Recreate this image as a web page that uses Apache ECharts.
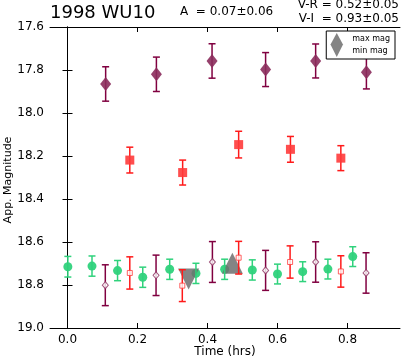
<!DOCTYPE html>
<html><head><meta charset="utf-8">
<script src="https://cdn.jsdelivr.net/npm/echarts@6/dist/echarts.min.js"></script>
<style>html,body{margin:0;padding:0;background:#fff}#c{width:401px;height:362px}</style>
</head><body><div id="c"></div>
<script>
// Data: [time (hrs), magnitude, error]
const vDiamonds = [[0.109,17.865,0.080],[0.254,17.820,0.080],[0.413,17.758,0.080],[0.566,17.798,0.079],[0.709,17.758,0.079],[0.854,17.811,0.077]];
const rSquares  = [[0.178,18.219,0.060],[0.329,18.277,0.058],[0.489,18.147,0.062],[0.637,18.169,0.060],[0.781,18.210,0.058]];
const greenCircles = [[0.001,18.715,0.048],[0.070,18.712,0.047],[0.143,18.733,0.047],[0.215,18.764,0.047],[0.292,18.727,0.047],[0.367,18.746,0.047],[0.449,18.727,0.047],[0.528,18.730,0.047],[0.600,18.749,0.046],[0.672,18.738,0.046],[0.744,18.726,0.046],[0.815,18.668,0.046]];
const openSquares = [[0.178,18.744,0.075],[0.328,18.803,0.074],[0.489,18.673,0.076],[0.636,18.693,0.075],[0.781,18.737,0.073]];
const openDiamonds = [[0.108,18.801,0.095],[0.253,18.755,0.094],[0.414,18.693,0.095],[0.566,18.732,0.093],[0.709,18.693,0.094],[0.853,18.744,0.094]];
const maxMag = [[0.471,18.699]];
const minMag = [[0.346,18.772]];
const xTicks = [0.0,0.2,0.4,0.6,0.8];
const yTicks = [17.6,17.8,18.0,18.2,18.4,18.6,18.8,19.0];
const titleText = '1998 WU10';
const ampText = 'A  = 0.07\u00b10.06';
const vrText = 'V-R = 0.52\u00b10.05';
const viText = 'V-I  = 0.93\u00b10.05';
const xName = 'Time (hrs)';
const yName = 'App. Magnitude';

const FONT = 'DejaVu Sans';
const downTri = 'path://M0,0L2,0L1,2Z';

function errSeries(data, color, z) {
  return {
    type: 'custom', z: z, silent: true,
    data: data,
    encode: {x: 0, y: 1},
    renderItem: function (params, api) {
      const x = api.value(0), y = api.value(1), e = api.value(2);
      const top = api.coord([x, y - e]);
      const bot = api.coord([x, y + e]);
      const cw = 3.5;
      const st = {stroke: color, lineWidth: 1.5};
      return {type: 'group', children: [
        {type: 'line', shape: {x1: top[0], y1: top[1], x2: bot[0], y2: bot[1]}, style: st},
        {type: 'line', shape: {x1: top[0]-cw, y1: top[1], x2: top[0]+cw, y2: top[1]}, style: st},
        {type: 'line', shape: {x1: bot[0]-cw, y1: bot[1], x2: bot[0]+cw, y2: bot[1]}, style: st}
      ]};
    }
  };
}

const purpleErr = '#800040', purpleFill = '#8b2c5c';
const redErr = '#ff1a1a', redFill = '#ff3b3b';
const greenErr = '#2fd27c', greenFill = '#2fd27c';
const grayFill = '#6e6e6e';

const axisCommon = {
  axisLine: {show: true, lineStyle: {color: '#000', width: 1}},
  axisTick: {show: true, inside: true, length: 5, lineStyle: {color: '#000'}},
  splitLine: {show: false}
};

const chart = echarts.init(document.getElementById('c'), null, {renderer: 'canvas'});
chart.setOption({
  animation: false,
  backgroundColor: '#fff',
  grid: {left: 50, right: 1, top: 27, bottom: 34, containLabel: false, outerBoundsMode: 'none'},
  xAxis: [
    Object.assign({}, axisCommon, {
      type: 'value', min: -0.05, max: 0.95, position: 'bottom',
      axisTick: Object.assign({}, axisCommon.axisTick, {customValues: xTicks}),
      axisLabel: {customValues: xTicks, formatter: v => v.toFixed(1), fontFamily: FONT, fontSize: 12, color: '#000', margin: 6}
    }),
    Object.assign({}, axisCommon, {
      type: 'value', min: -0.05, max: 0.95, position: 'top',
      axisTick: Object.assign({}, axisCommon.axisTick, {customValues: xTicks}),
      axisLabel: {show: false}
    })
  ],
  yAxis: [
    Object.assign({}, axisCommon, {
      type: 'value', min: 17.6, max: 19.0, interval: 0.2, inverse: true, position: 'left',
      axisLabel: {formatter: v => v.toFixed(1), fontFamily: FONT, fontSize: 12, color: '#000', margin: 6}
    }),
    Object.assign({}, axisCommon, {
      type: 'value', min: 17.6, max: 19.0, interval: 0.2, inverse: true, position: 'right',
      axisLabel: {show: false}
    })
  ],
  legend: {
    orient: 'vertical', right: 6, top: 31,
    data: [{name: 'max mag', icon: 'triangle'}, {name: 'min mag', icon: downTri}],
    itemWidth: 13, itemHeight: 12, itemGap: 0,
    borderColor: '#000', borderWidth: 1, borderRadius: 0, padding: [2, 5, 2, 4],
    backgroundColor: '#fff',
    textStyle: {fontFamily: FONT, fontSize: 8, color: '#000', padding: [0,0,0,4]},
    selectedMode: false
  },
  graphic: [
    {type: 'text', left: 50, top: 4, style: {text: titleText, font: '18px "DejaVu Sans"', fill: '#000'}},
    {type: 'text', left: 180, top: 6, style: {text: ampText, font: '12px "DejaVu Sans"', fill: '#000'}},
    {type: 'text', right: 2, top: -1, style: {text: vrText, font: '12px "DejaVu Sans"', fill: '#000', align: 'right'}},
    {type: 'text', right: 2, top: 13, style: {text: viText, font: '12px "DejaVu Sans"', fill: '#000', align: 'right'}},
    {type: 'text', x: 225, y: 352, style: {text: xName, font: '12px "DejaVu Sans"', fill: '#000', align: 'center', verticalAlign: 'middle'}},
    {type: 'text', x: 8, y: 180, rotation: Math.PI / 2, style: {text: yName, font: '11px "DejaVu Sans"', fill: '#000', align: 'center', verticalAlign: 'middle'}}
  ],
  series: [
    errSeries(vDiamonds, purpleErr, 2),
    {type: 'scatter', z: 3, data: vDiamonds, symbol: 'diamond', symbolSize: [11, 14], itemStyle: {color: purpleFill, opacity: 0.9}},
    errSeries(rSquares, redErr, 2),
    {type: 'scatter', z: 3, data: rSquares, symbol: 'rect', symbolSize: 9, itemStyle: {color: redFill, opacity: 0.9}},
    {type: 'scatter', z: 3, data: greenCircles, symbol: 'circle', symbolSize: 9, itemStyle: {color: greenFill, opacity: 0.95}},
    {type: 'scatter', z: 4, name: 'max mag', data: maxMag, symbol: 'triangle', symbolSize: [21, 21], itemStyle: {color: grayFill, opacity: 0.85}},
    {type: 'scatter', z: 4, name: 'min mag', data: minMag, symbol: downTri, symbolSize: [21, 21], itemStyle: {color: grayFill, opacity: 0.85}},
    errSeries(greenCircles, greenErr, 5),
    errSeries(openSquares, redErr, 5),
    {type: 'scatter', z: 6, data: openSquares, symbol: 'rect', symbolSize: 5, itemStyle: {color: '#fff', borderColor: redFill, borderWidth: 1}},
    errSeries(openDiamonds, purpleErr, 5),
    {type: 'scatter', z: 6, data: openDiamonds, symbol: 'diamond', symbolSize: [6, 7], itemStyle: {color: '#fff', borderColor: purpleFill, borderWidth: 1}}
  ]
});
</script></body></html>
